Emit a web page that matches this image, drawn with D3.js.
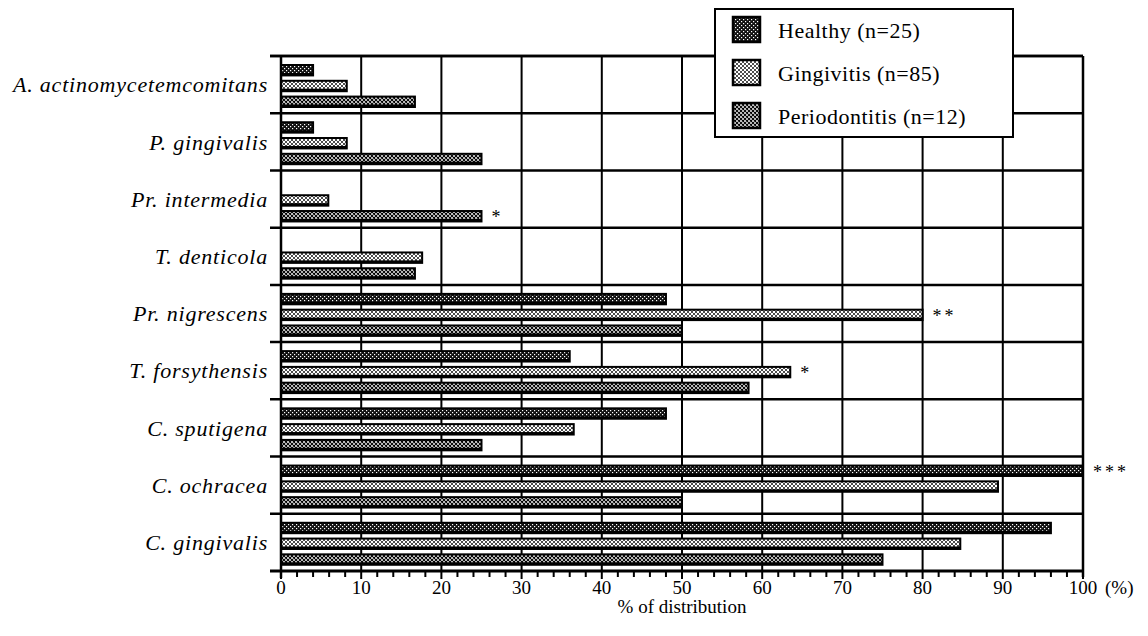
<!DOCTYPE html>
<html>
<head>
<meta charset="utf-8">
<script src="https://cdn.jsdelivr.net/npm/d3@7"></script>
<style>
  body { margin: 0; background: #fff; }
  svg text { font-family: "Liberation Serif", "DejaVu Serif", serif; }
</style>
</head>
<body>
<div id="container"></div>
<script>
// Data (% of subjects positive)
const categories = [
  "A. actinomycetemcomitans",
  "P. gingivalis",
  "Pr. intermedia",
  "T. denticola",
  "Pr. nigrescens",
  "T. forsythensis",
  "C. sputigena",
  "C. ochracea",
  "C. gingivalis",
];
const seriesNames = ["Healthy (n=25)", "Gingivitis (n=85)", "Periodontitis (n=12)"];
const healthy = [4, 4, 0, 0, 48, 36, 48, 100, 96];
const gingivitis = [8.2, 8.2, 5.9, 17.6, 80, 63.5, 36.5, 89.4, 84.7];
const periodontitis = [16.7, 25, 25, 16.7, 50, 58.3, 25, 50, 75];
const xTicks = [0, 10, 20, 30, 40, 50, 60, 70, 80, 90, 100];
const minorTicks = d3.range(0, 101, 2);
// significance marks: category, series index, label
const sigCats = ["Pr. intermedia", "Pr. nigrescens", "T. forsythensis", "C. ochracea"];
const sigSeries = [2, 1, 1, 0];
const sigLabels = ["*", "**", "*", "***"];

const values = [healthy, gingivitis, periodontitis];
const patternIds = ["pat-healthy", "pat-gingivitis", "pat-periodontitis"];

const svg = d3
  .select("#container")
  .append("svg")
  .attr("width", 1148)
  .attr("height", 636);

// hatch patterns to imitate the printed screens
const defs = svg.append("defs");

const p0 = defs.append("pattern")
  .attr("id", patternIds[0])
  .attr("patternUnits", "userSpaceOnUse")
  .attr("width", 4).attr("height", 4);
p0.append("rect").attr("width", 4).attr("height", 4).attr("fill", "#111");
p0.append("rect").attr("x", 0).attr("y", 0).attr("width", 1.2).attr("height", 1.2).attr("fill", "#fff");
p0.append("rect").attr("x", 2).attr("y", 2).attr("width", 1.2).attr("height", 1.2).attr("fill", "#fff");

[[patternIds[1], 0.7], [patternIds[2], 1.1]].forEach(([id, w]) => {
  const p = defs.append("pattern")
    .attr("id", id)
    .attr("patternUnits", "userSpaceOnUse")
    .attr("width", 4).attr("height", 4);
  p.append("rect").attr("width", 4).attr("height", 4).attr("fill", "#fff");
  p.append("path")
    .attr("d", "M-1,-1 L5,5 M-1,5 L5,-1 M-1,3 L1,5 M3,-1 L5,1 M3,5 L5,3 M-1,1 L1,-1")
    .attr("stroke", "#000")
    .attr("stroke-width", w);
});

// scales
const x = d3.scaleLinear().domain([0, 100]).range([281, 1083]);
const y = d3.scaleBand().domain(categories).range([56, 571]).paddingInner(0).paddingOuter(0);
const ySub = d3.scaleBand().domain([0, 1, 2]).range([9, 51]).paddingInner(0.34);

// vertical grid lines
svg.append("g")
  .selectAll("line")
  .data(xTicks.slice(1))
  .join("line")
  .attr("x1", (d) => x(d))
  .attr("x2", (d) => x(d))
  .attr("y1", 56)
  .attr("y2", 571)
  .attr("stroke", "#000")
  .attr("stroke-width", 2);

// horizontal category separators (extend left as ticks)
svg.append("g")
  .selectAll("line")
  .data(categories)
  .join("line")
  .attr("x1", 270)
  .attr("x2", x(100))
  .attr("y1", (d) => y(d))
  .attr("y2", (d) => y(d))
  .attr("stroke", "#000")
  .attr("stroke-width", 2.5);

// bars
const barData = [];
categories.forEach((c, i) => {
  values.forEach((arr, s) => {
    if (arr[i] > 0) barData.push({ cat: c, s: s, v: arr[i] });
  });
});

const bars = svg.append("g");
bars.selectAll(".bar-shadow")
  .data(barData)
  .join("rect")
  .attr("class", "bar-shadow")
  .attr("x", x(0))
  .attr("y", (d) => y(d.cat) + ySub(d.s) - 1)
  .attr("width", (d) => x(d.v) - x(0) + 1)
  .attr("height", ySub.bandwidth() + 2)
  .attr("fill", "#000");
bars.selectAll(".bar")
  .data(barData)
  .join("rect")
  .attr("class", "bar")
  .attr("x", x(0) + 1)
  .attr("y", (d) => y(d.cat) + ySub(d.s) + 1)
  .attr("width", (d) => Math.max(0, x(d.v) - x(0) - 2))
  .attr("height", ySub.bandwidth() - 3.5)
  .attr("fill", (d) => `url(#${patternIds[d.s]})`);

// significance asterisks
svg.append("g")
  .selectAll("text")
  .data(sigCats)
  .join("text")
  .attr("x", (d, i) => x(values[sigSeries[i]][categories.indexOf(d)]) + 10)
  .attr("y", (d, i) => y(d) + ySub(sigSeries[i]) + ySub.bandwidth() / 2 + 7)
  .attr("font-size", 18)
  .attr("letter-spacing", 3)
  .text((d, i) => sigLabels[i]);

// frame: top, right, left axis
svg.append("line")
  .attr("x1", 270).attr("x2", x(100))
  .attr("y1", 56).attr("y2", 56)
  .attr("stroke", "#000").attr("stroke-width", 2.5);
svg.append("line")
  .attr("x1", x(100)).attr("x2", x(100))
  .attr("y1", 56).attr("y2", 577)
  .attr("stroke", "#000").attr("stroke-width", 2.5);
svg.append("line")
  .attr("x1", x(0)).attr("x2", x(0))
  .attr("y1", 56).attr("y2", 578)
  .attr("stroke", "#000").attr("stroke-width", 2.5);

// x axis with minor ticks
const xAxis = svg.append("g").attr("transform", "translate(0,571)");
xAxis.append("line")
  .attr("x1", 270).attr("x2", x(100))
  .attr("stroke", "#000").attr("stroke-width", 3);
xAxis.selectAll(".minor")
  .data(minorTicks)
  .join("line")
  .attr("class", "minor")
  .attr("x1", (d) => x(d)).attr("x2", (d) => x(d))
  .attr("y1", 0)
  .attr("y2", (d) => (d % 10 === 0 ? 8 : 6))
  .attr("stroke", "#000")
  .attr("stroke-width", 2);
xAxis.selectAll(".tick-label")
  .data(xTicks)
  .join("text")
  .attr("class", "tick-label")
  .attr("x", (d) => x(d))
  .attr("y", 23)
  .attr("text-anchor", "middle")
  .attr("font-size", 19)
  .text((d) => d);
xAxis.append("text")
  .attr("x", x(100) + 22)
  .attr("y", 23)
  .attr("font-size", 19)
  .text("(%)");
xAxis.append("text")
  .attr("x", x(50))
  .attr("y", 42)
  .attr("text-anchor", "middle")
  .attr("font-size", 19)
  .text("% of distribution");

// category labels
svg.append("g")
  .selectAll("text")
  .data(categories)
  .join("text")
  .attr("x", 268)
  .attr("y", (d) => y(d) + y.bandwidth() / 2)
  .attr("dy", "0.35em")
  .attr("text-anchor", "end")
  .attr("font-size", 22)
  .attr("letter-spacing", 0.8)
  .attr("font-style", "italic")
  .text((d) => d);

// legend
const legend = svg.append("g");
legend.append("rect")
  .attr("x", 715).attr("y", 9)
  .attr("width", 298).attr("height", 128)
  .attr("fill", "#fff")
  .attr("stroke", "#000")
  .attr("stroke-width", 2);
const items = legend.selectAll(".item")
  .data(seriesNames)
  .join("g")
  .attr("class", "item")
  .attr("transform", (d, i) => `translate(733,${17 + i * 43})`);
items.append("rect")
  .attr("width", 27).attr("height", 25)
  .attr("fill", (d, i) => `url(#${patternIds[i]})`)
  .attr("stroke", "#000")
  .attr("stroke-width", 2.5);
items.append("text")
  .attr("x", 45)
  .attr("y", 21)
  .attr("font-size", 22)
  .attr("letter-spacing", 0.5)
  .text((d) => d);
</script>
</body>
</html>
